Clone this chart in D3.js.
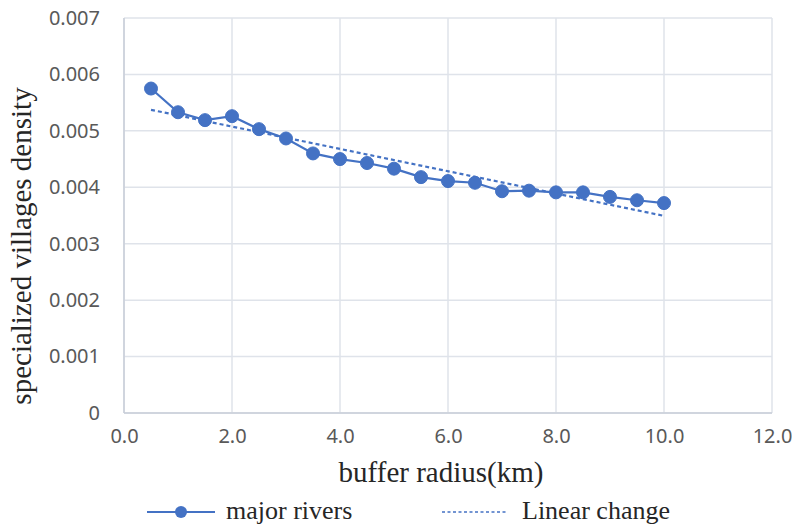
<!DOCTYPE html>
<html>
<head>
<meta charset="utf-8">
<script src="https://cdn.jsdelivr.net/npm/d3@7"></script>
<style>
  html, body { margin: 0; padding: 0; background: #ffffff; }
  svg { display: block; }
  .tick text { font-family: "Noto Sans", sans-serif; font-size: 20px; fill: #595959; }
</style>
</head>
<body>
<div id="chart"></div>
<script>
// ---- data ----
const radius = [0.5, 1.0, 1.5, 2.0, 2.5, 3.0, 3.5, 4.0, 4.5, 5.0, 5.5, 6.0, 6.5, 7.0, 7.5, 8.0, 8.5, 9.0, 9.5, 10.0];
const majorRivers = [0.00575, 0.00533, 0.00519, 0.00526, 0.00503, 0.004865, 0.00460, 0.00450, 0.00443, 0.00433,
                     0.00418, 0.00411, 0.00408, 0.00393, 0.00394, 0.00391, 0.00391, 0.00383, 0.00377, 0.00372];
const xTicks = [0, 2, 4, 6, 8, 10, 12];
const yTicks = [0, 0.001, 0.002, 0.003, 0.004, 0.005, 0.006, 0.007];
const seriesNames = ["major rivers", "Linear change"];
const xTitle = "buffer radius(km)";
const yTitle = "specialized villages density";

// ---- layout ----
const W = 792, H = 528;
const margin = { left: 124, right: 20, top: 18, bottom: 115 };
const blue = "#4472c4";
const SERIF = '"Liberation Serif"';

const svg = d3.select("#chart").append("svg").attr("width", W).attr("height", H);

const x = d3.scaleLinear().domain([0, 12]).range([margin.left, W - margin.right]);
const y = d3.scaleLinear().domain([0, 0.007]).range([H - margin.bottom, margin.top]);

// gridlines
svg.append("g").selectAll("line.h").data(yTicks).join("line")
  .attr("x1", x(0)).attr("x2", x(12))
  .attr("y1", d => y(d)).attr("y2", d => y(d))
  .attr("stroke", "#dfe3ea").attr("stroke-width", 1.5);
svg.append("g").selectAll("line.v").data(xTicks).join("line")
  .attr("y1", y(0)).attr("y2", y(0.007))
  .attr("x1", d => x(d)).attr("x2", d => x(d))
  .attr("stroke", "#dfe3ea").attr("stroke-width", 1.5);

// axes lines
svg.append("line").attr("x1", x(0)).attr("x2", x(0)).attr("y1", y(0)).attr("y2", y(0.007))
  .attr("stroke", "#c9ced8").attr("stroke-width", 1.5);
svg.append("line").attr("x1", x(0)).attr("x2", x(12)).attr("y1", y(0)).attr("y2", y(0))
  .attr("stroke", "#c9ced8").attr("stroke-width", 1.5);

// axes with d3 axis generators (labels only)
const yAxis = d3.axisLeft(y).tickValues(yTicks).tickSize(0).tickPadding(24)
  .tickFormat(d => d === 0 ? "0" : d3.format(".3f")(d));
const gy = svg.append("g").attr("transform", `translate(${x(0)},0)`).call(yAxis);
gy.select(".domain").remove();
gy.attr("font-family", null).attr("font-size", null);

const xAxis = d3.axisBottom(x).tickValues(xTicks).tickSize(0).tickPadding(16)
  .tickFormat(d3.format(".1f"));
const gx = svg.append("g").attr("transform", `translate(0,${y(0)})`).call(xAxis);
gx.select(".domain").remove();
gx.attr("font-family", null).attr("font-size", null);

// linear trend (least squares of the series)
const n = radius.length;
const mx = d3.mean(radius), my = d3.mean(majorRivers);
let sxy = 0, sxx = 0;
for (let i = 0; i < n; i++) { sxy += (radius[i] - mx) * (majorRivers[i] - my); sxx += (radius[i] - mx) ** 2; }
const slope = sxy / sxx, intercept = my - slope * mx;
const xs = d3.extent(radius);
svg.append("line")
  .attr("x1", x(xs[0])).attr("y1", y(intercept + slope * xs[0]))
  .attr("x2", x(xs[1])).attr("y2", y(intercept + slope * xs[1]))
  .attr("stroke", blue).attr("stroke-width", 2.2).attr("stroke-dasharray", "4,3");

// series line + markers
const line = d3.line().x((d, i) => x(radius[i])).y(d => y(d));
svg.append("path").datum(majorRivers).attr("d", line)
  .attr("fill", "none").attr("stroke", blue).attr("stroke-width", 2.2);
svg.append("g").selectAll("circle").data(majorRivers).join("circle")
  .attr("cx", (d, i) => x(radius[i])).attr("cy", d => y(d)).attr("r", 6.5)
  .attr("fill", blue).attr("stroke", blue).attr("stroke-width", 1);

// titles
svg.append("text").attr("x", 441).attr("y", 482).attr("text-anchor", "middle")
  .attr("fill", "#262626").style("font-family", SERIF).style("font-size", "29px")
  .text(xTitle);
svg.append("text").attr("transform", "translate(31,246) rotate(-90)").attr("text-anchor", "middle")
  .attr("fill", "#262626").style("font-family", SERIF).style("font-size", "29px")
  .text(yTitle);

// legend
const ly = 512;
const leg = svg.append("g");
leg.append("line").attr("x1", 147).attr("x2", 215).attr("y1", ly).attr("y2", ly)
  .attr("stroke", blue).attr("stroke-width", 2.2);
leg.append("circle").attr("cx", 181).attr("cy", ly).attr("r", 6).attr("fill", blue);
leg.append("text").attr("x", 226).attr("y", 519).attr("fill", "#262626")
  .style("font-family", SERIF).style("font-size", "26px").text(seriesNames[0]);
leg.append("line").attr("x1", 442).attr("x2", 506).attr("y1", ly).attr("y2", ly)
  .attr("stroke", blue).attr("stroke-width", 1.6).attr("stroke-dasharray", "3,2.5");
leg.append("text").attr("x", 522).attr("y", 519).attr("fill", "#262626")
  .style("font-family", SERIF).style("font-size", "26px").text(seriesNames[1]);
</script>
</body>
</html>
